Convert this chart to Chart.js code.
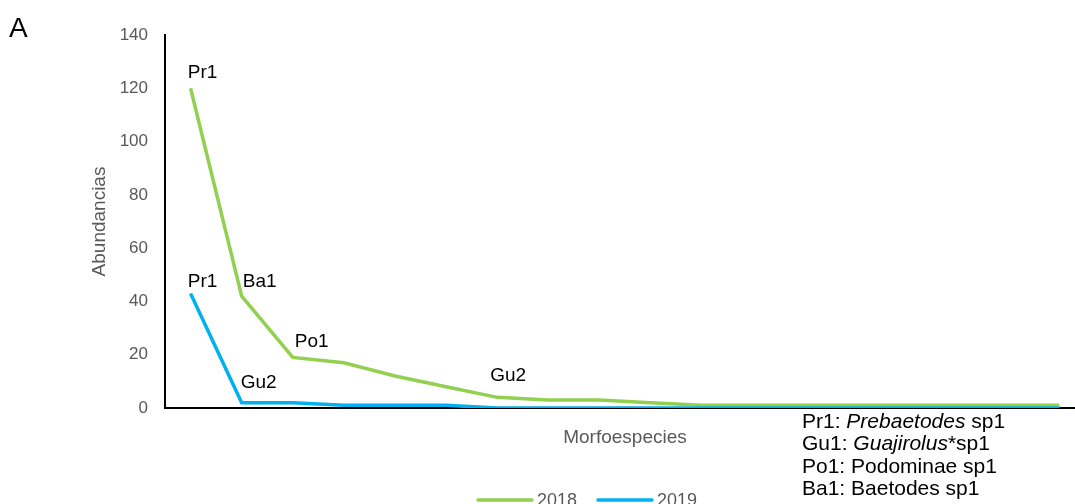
<!DOCTYPE html>
<html>
<head>
<meta charset="utf-8">
<script src="https://cdn.jsdelivr.net/npm/chart.js@4/dist/chart.umd.min.js"></script>
<style>
html,body{margin:0;padding:0;background:#fff;overflow:hidden;width:1075px;height:504px;}
canvas{display:block;}
</style>
</head>
<body>
<canvas id="c" width="1100" height="504" style="width:1100px;height:504px"></canvas>
<script>
// ---- data ----
const categories = ["1","2","3","4","5","6","7","8","9","10","11","12","13","14","15","16","17","18"];
const seriesNames = ["2018", "2019"];
const values2018 = [120, 42, 19, 17, 12, 8, 4, 3, 3, 2, 1, 1, 1, 1, 1, 1, 1, 1];
const values2019 = [43, 2, 2, 1, 1, 1, 0, 0, 0, 0, 0, 0, 0, 0, 0, 0, 0, 0];
const labels2018 = ["Pr1", "Ba1", "Po1", null, null, null, "Gu2", null, null, null, null, null, null, null, null, null, null, null];
const labels2019 = ["Pr1", "Gu2", null, null, null, null, null, null, null, null, null, null, null, null, null, null, null, null];
const yTicks = [0, 20, 40, 60, 80, 100, 120, 140];
const yTitle = "Abundancias";
const xTitle = "Morfoespecies";
const panelLetter = "A";
const keyLines = [
  [["Pr1: ", false], ["Prebaetodes", true], [" sp1", false]],
  [["Gu1: ", false], ["Guajirolus", true], ["*sp1", false]],
  [["Po1: ", false], ["Podominae sp1", false]],
  [["Ba1: ", false], ["Baetodes sp1", false]]
];

// ---- style ----
const FONT = "'Liberation Sans', Arial, sans-serif";
const GREEN = "#92D050", BLUE = "#00B0F0", GREY = "#595959";
// label offsets (text centre relative to point), per series index
const labelOffsets = [
  {0: [12, -16], 1: [18, -14], 2: [19, -16], 6: [11, -22]},
  {0: [12, -12], 1: [17, -20]}
];

const extras = {
  id: 'extras',
  afterDatasetsDraw(chart) {
    const ctx = chart.ctx;
    ctx.save();
    // point labels
    ctx.fillStyle = "#000";
    ctx.font = "19px " + FONT;
    ctx.textAlign = "center";
    ctx.textBaseline = "middle";
    const allLabels = [labels2018, labels2019];
    chart.data.datasets.forEach((ds, di) => {
      const meta = chart.getDatasetMeta(di);
      allLabels[di].forEach((t, i) => {
        if (!t) return;
        const p = meta.data[i];
        const off = labelOffsets[di][i] || [12, -16];
        ctx.fillText(t, p.x + off[0], p.y + off[1]);
      });
    });
    // panel letter
    ctx.textAlign = "left";
    ctx.textBaseline = "alphabetic";
    ctx.font = "28px " + FONT;
    ctx.fillText(panelLetter, 9, 37);
    // legend
    const legendItems = [[478, GREEN, 0], [598, BLUE, 1]];
    ctx.lineCap = "round";
    ctx.lineWidth = 3.5;
    ctx.font = "18px " + FONT;
    ctx.textAlign = "left";
    ctx.textBaseline = "alphabetic";
    legendItems.forEach(([x, col, di]) => {
      ctx.strokeStyle = col;
      ctx.beginPath();
      ctx.moveTo(x, 500);
      ctx.lineTo(x + 54, 500);
      ctx.stroke();
      ctx.fillStyle = GREY;
      ctx.fillText(chart.data.datasets[di].label, x + 59, 506);
    });
    // species key
    ctx.fillStyle = "#000";
    ctx.textBaseline = "middle";
    keyLines.forEach((segs, li) => {
      let x = 802;
      const y = 422 + li * 22.5;
      segs.forEach(([txt, it]) => {
        ctx.font = (it ? "italic " : "") + "21px " + FONT;
        ctx.fillText(txt, x, y);
        x += ctx.measureText(txt).width;
      });
    });
    ctx.restore();
  }
};

new Chart(document.getElementById("c"), {
  type: "line",
  data: {
    labels: categories,
    datasets: [
      {label: seriesNames[0], data: values2018, borderColor: GREEN, backgroundColor: GREEN, borderWidth: 3.5, pointRadius: 0, tension: 0, order: 1},
      {label: seriesNames[1], data: values2019, borderColor: BLUE, backgroundColor: BLUE, borderWidth: 3.5, pointRadius: 0, tension: 0, order: 0}
    ]
  },
  options: {
    responsive: false,
    animation: false,
    devicePixelRatio: 1,
    layout: {padding: {left: 0, right: 15, top: 35, bottom: 0}},
    plugins: {legend: {display: false}, tooltip: {enabled: false}},
    scales: {
      x: {
        type: "category",
        offset: true,
        grid: {display: false, drawTicks: false},
        border: {display: true, color: "#000", width: 2},
        ticks: {display: false},
        title: {display: true, text: xTitle, color: GREY, font: {family: FONT, size: 19}, padding: {top: 0, bottom: 54.6}},
        afterFit(s) { s.height = 96; }
      },
      y: {
        min: 0, max: 140,
        afterBuildTicks(s) { s.ticks = yTicks.map(v => ({value: v})); },
        grid: {display: false, drawTicks: false},
        border: {display: true, color: "#000", width: 2},
        ticks: {color: GREY, font: {family: FONT, size: 17}, padding: 17},
        title: {display: true, text: yTitle, color: GREY, font: {family: FONT, size: 19}, padding: {top: 88.6, bottom: 0}},
        afterFit(s) { s.width = 165; }
      }
    }
  },
  plugins: [extras]
});
</script>
</body>
</html>
